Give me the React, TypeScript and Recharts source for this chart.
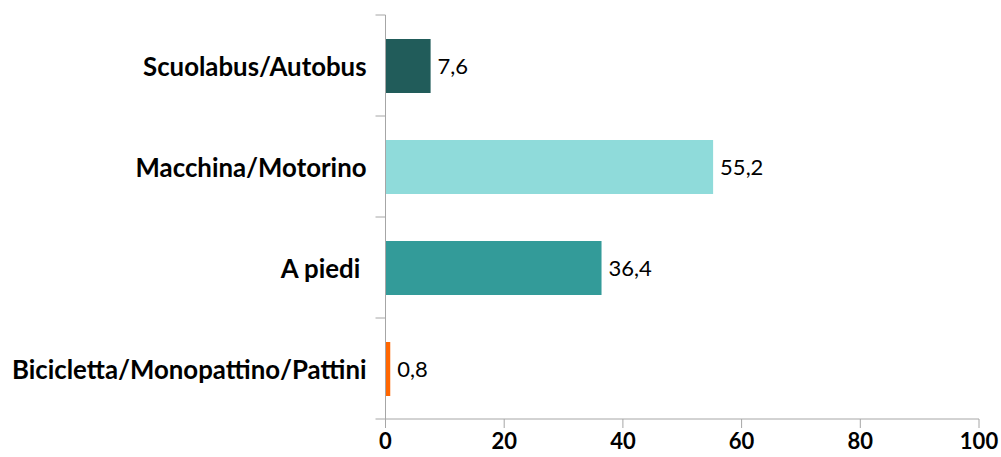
import React from 'react';
import { BarChart, Bar, XAxis, YAxis, Cell, LabelList } from 'recharts';

const categories = ['Scuolabus/Autobus', 'Macchina/Motorino', 'A piedi ', 'Bicicletta/Monopattino/Pattini'];
const values = [7.6, 55.2, 36.4, 0.8];
const colors = ['#215C5A', '#8FDBDA', '#339B99', '#FF6600'];
const xTicks = [0, 20, 40, 60, 80, 100];

const data = categories.map((c, i) => ({ name: c, value: values[i] }));

const FONT = 'Lato, "Open Sans", sans-serif';
const AXIS = '#A6A6A6';

const YTick = (props: any) => {
  const { x, y, payload, index, visibleTicksCount } = props;
  const off = payload && typeof payload.offset === 'number' ? payload.offset : 50.5;
  const isLast = index === visibleTicksCount - 1;
  return (
    <g>
      <line x1={x - 10} x2={x} y1={y - off} y2={y - off} stroke={AXIS} strokeWidth={1} />
      {isLast && <line x1={x - 10} x2={x} y1={y + off} y2={y + off} stroke={AXIS} strokeWidth={1} />}
      <text
        x={x - 19}
        y={y}
        textAnchor="end"
        dominantBaseline="central"
        fontFamily={FONT}
        fontWeight={700}
        fontSize={25.8}
        fill="#000"
        style={{ whiteSpace: 'pre' }}
      >
        {payload.value}
      </text>
    </g>
  );
};

export default function App() {
  return (
    <div style={{ position: 'absolute', left: 0, top: 0, width: 1001, height: 457, background: '#fff' }}>
      <BarChart
        width={1001}
        height={457}
        data={data}
        layout="vertical"
        margin={{ top: 15, right: 22, bottom: 0, left: 0 }}
        barSize={54}
      >
        <XAxis
          type="number"
          domain={[0, 100]}
          ticks={xTicks}
          interval={0}
          height={38}
          axisLine={{ stroke: AXIS }}
          tickLine={{ stroke: AXIS }}
          tickSize={9}
          tickMargin={5}
          tick={{ fontFamily: FONT, fontWeight: 700, fontSize: 22, fill: '#000' }}
        />
        <YAxis
          type="category"
          dataKey="name"
          width={385.5}
          axisLine={{ stroke: AXIS }}
          tickLine={false}
          tickSize={0}
          tickMargin={0}
          interval={0}
          tick={<YTick />}
        />
        <Bar dataKey="value" isAnimationActive={false}>
          {data.map((d, i) => (
            <Cell key={d.name} fill={colors[i]} />
          ))}
          <LabelList
            dataKey="value"
            position="right"
            offset={7}
            formatter={(v: any) => String(v).replace('.', ',')}
            style={{ fontFamily: FONT, fontSize: 22, fill: '#000' }}
          />
        </Bar>
      </BarChart>
    </div>
  );
}
